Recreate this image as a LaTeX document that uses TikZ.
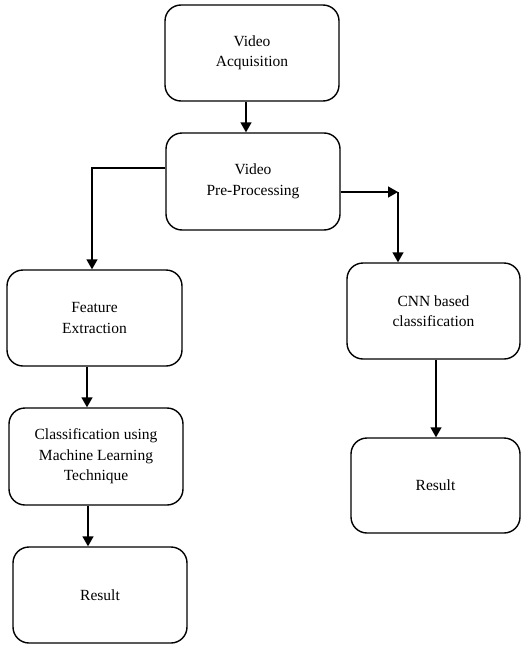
\documentclass[tikz,border=0pt]{standalone}
\usepackage{fontspec}
\setmainfont{Liberation Serif}
\usetikzlibrary{arrows.meta,calc}
\tikzset{
  box/.style={draw, line width=1.4pt, rounded corners=16pt, align=center,
    inner sep=0pt, font=\fontsize{15.5}{20.5}\selectfont},
  arr/.style={line width=1.4pt, -{Triangle[length=10pt,width=11pt]}},
  ln/.style={line width=1.4pt}
}
\begin{document}
\begin{tikzpicture}[x=1pt,y=-1pt]
\useasboundingbox (0,0) rectangle (521,645);
\node[box, minimum width=174pt, minimum height=96pt] (acq) at (252,53) {Video\\Acquisition};
\node[box, minimum width=174pt, minimum height=97pt] (pre) at (253,181.5) {Video\\Pre-Processing};
\node[box, minimum width=175pt, minimum height=96pt] (feat) at (94.5,318) {Feature\\Extraction};
\node[box, minimum width=174pt, minimum height=97pt] (cls) at (96,456.5) {Classification using\\Machine Learning\\Technique};
\node[box, minimum width=174pt, minimum height=96pt] (res1) at (100,595) {Result};
\node[box, minimum width=173pt, minimum height=96pt] (cnn) at (433.5,311) {CNN based\\classification};
\node[box, minimum width=169pt, minimum height=95pt] (res2) at (435.5,485.5) {Result};
\coordinate (c1) at (398,192);
\draw[arr] ([xshift=-6pt]acq.south) -- ([xshift=-6pt]acq.south |- pre.north);
\draw[arr] ([yshift=13.5pt]pre.west) -| ([xshift=-2.5pt]feat.north);
\draw[arr] ([xshift=-7.5pt]feat.south) -- ([xshift=-7.5pt]feat.south |- cls.north);
\draw[arr] ([xshift=-8pt]cls.south) -- ([xshift=-8pt]cls.south |- res1.north);
\draw[arr] (pre.east |- c1) -- (c1);
\draw[arr] (c1) -- (c1 |- cnn.north);
\draw[arr] ([xshift=2.5pt]cnn.south) -- ([xshift=2.5pt]cnn.south |- res2.north);
\end{tikzpicture}
\end{document}
